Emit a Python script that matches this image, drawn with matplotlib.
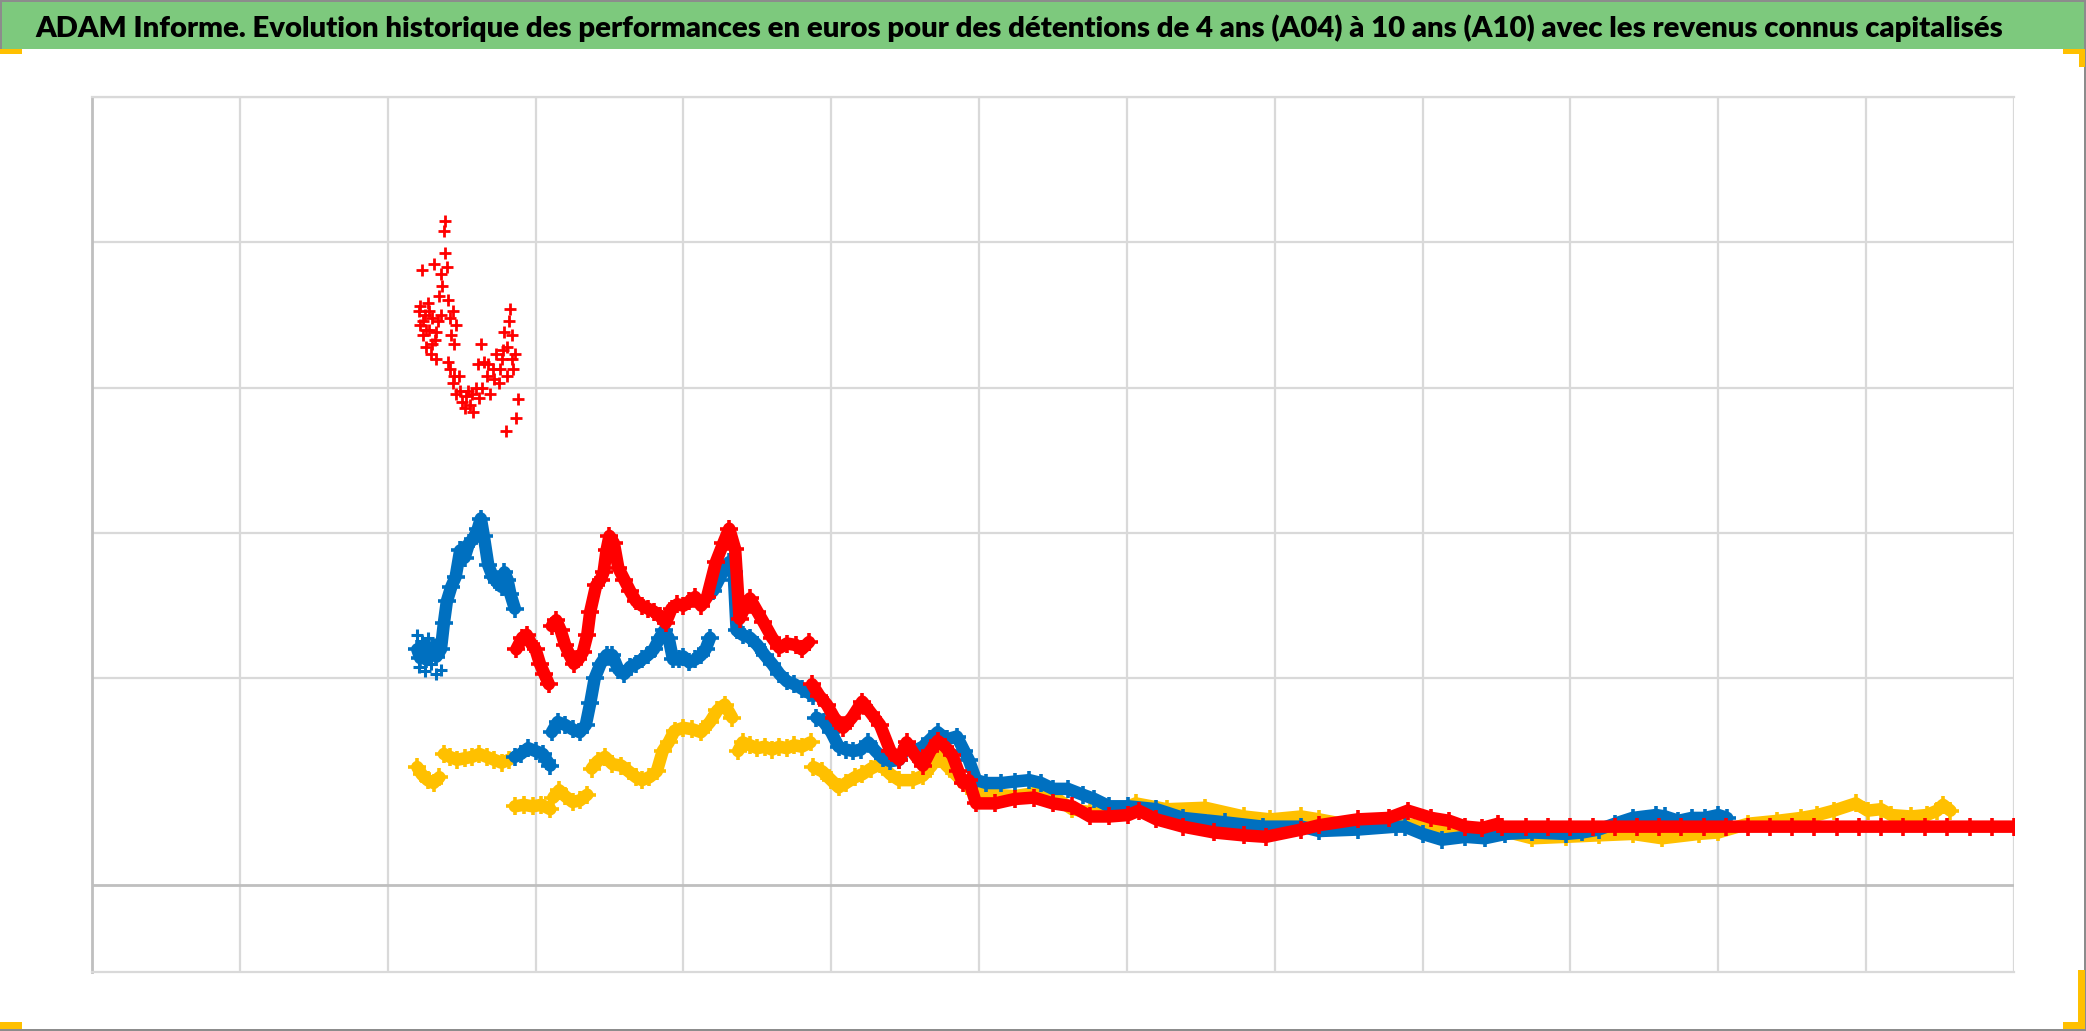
import numpy as np
import matplotlib
matplotlib.use("Agg")
import matplotlib.pyplot as plt
from matplotlib.patches import Rectangle

W, H = 2086, 1031

title = ("ADAM Informe. Evolution historique des performances en euros pour des détentions "
         "de 4 ans (A04) à 10 ans (A10) avec les revenus connus capitalisés")

# x: years from the left edge of the chart (one vertical gridline per year)
# y: performance value, horizontal axis at 0
# each series is a list of contiguous segments of (x, y) points
yellow_segments = [
    [(2.20, 0.81), (2.23, 0.76), (2.27, 0.72), (2.31, 0.70), (2.35, 0.74)],
    [(2.38, 0.90), (2.42, 0.88), (2.47, 0.86), (2.52, 0.87), (2.57, 0.88), (2.62, 0.90),
     (2.67, 0.88), (2.72, 0.86), (2.77, 0.84), (2.82, 0.86)],
    [(2.86, 0.54), (2.92, 0.55), (2.98, 0.54), (3.04, 0.55), (3.10, 0.52)],
    [(3.12, 0.60), (3.16, 0.65), (3.20, 0.61), (3.25, 0.57), (3.30, 0.58), (3.35, 0.62)],
    [(3.38, 0.80), (3.42, 0.85), (3.47, 0.88), (3.52, 0.83), (3.58, 0.82), (3.63, 0.78),
     (3.68, 0.74), (3.72, 0.72), (3.77, 0.74), (3.82, 0.78), (3.86, 0.92), (3.90, 0.98),
     (3.94, 1.06), (4.00, 1.08), (4.06, 1.07), (4.12, 1.05), (4.18, 1.12), (4.23, 1.20),
     (4.28, 1.24), (4.33, 1.15)],
    [(4.37, 0.92), (4.40, 0.98), (4.45, 0.96), (4.50, 0.94), (4.55, 0.95), (4.60, 0.93),
     (4.65, 0.95), (4.70, 0.94), (4.75, 0.96), (4.80, 0.95), (4.86, 0.98)],
    [(4.88, 0.81), (4.94, 0.78), (5.00, 0.72), (5.05, 0.67), (5.10, 0.70), (5.16, 0.74),
     (5.21, 0.76), (5.27, 0.80), (5.33, 0.83), (5.40, 0.76), (5.46, 0.72), (5.55, 0.72),
     (5.62, 0.75), (5.68, 0.82), (5.72, 0.89), (5.78, 0.82), (5.85, 0.75), (5.92, 0.68),
     (5.98, 0.63), (6.10, 0.62), (6.24, 0.61), (6.37, 0.63), (6.50, 0.61), (6.63, 0.52),
     (6.75, 0.50), (6.88, 0.49), (7.06, 0.56), (7.27, 0.52), (7.53, 0.53), (7.79, 0.47),
     (7.97, 0.45), (8.18, 0.47), (8.30, 0.45), (8.56, 0.40), (8.82, 0.43), (9.06, 0.39),
     (9.29, 0.37), (9.51, 0.38), (9.74, 0.32), (9.97, 0.33), (10.19, 0.34), (10.42, 0.35),
     (10.62, 0.32), (10.87, 0.35), (11.00, 0.36), (11.20, 0.42), (11.40, 0.44), (11.56, 0.46),
     (11.67, 0.48), (11.78, 0.51), (11.93, 0.56), (12.01, 0.51), (12.10, 0.52), (12.17, 0.48),
     (12.30, 0.47), (12.41, 0.48), (12.48, 0.51), (12.52, 0.55), (12.57, 0.51)],
]

blue_segments = [
    [(2.20, 1.62), (2.22, 1.56), (2.24, 1.64), (2.26, 1.55), (2.28, 1.58), (2.30, 1.63),
     (2.33, 1.57), (2.36, 1.62),
     (2.38, 1.80), (2.40, 1.95), (2.43, 2.05), (2.46, 2.12), (2.49, 2.30), (2.52, 2.25),
     (2.55, 2.35), (2.58, 2.38), (2.61, 2.45), (2.63, 2.52), (2.65, 2.40), (2.68, 2.20),
     (2.71, 2.12), (2.74, 2.08), (2.77, 2.05), (2.79, 2.15), (2.81, 2.10), (2.83, 2.00),
     (2.86, 1.90)],
    [(2.86, 0.88), (2.90, 0.90), (2.95, 0.94), (3.00, 0.92), (3.05, 0.90), (3.08, 0.85),
     (3.10, 0.82)],
    [(3.11, 1.05), (3.15, 1.12), (3.20, 1.10), (3.25, 1.07), (3.30, 1.05), (3.34, 1.10),
     (3.37, 1.25), (3.40, 1.42), (3.44, 1.52), (3.48, 1.58), (3.52, 1.58), (3.56, 1.48),
     (3.60, 1.45), (3.64, 1.50), (3.68, 1.52), (3.72, 1.55), (3.76, 1.58), (3.80, 1.62),
     (3.84, 1.70), (3.87, 1.75), (3.90, 1.70), (3.93, 1.55), (3.97, 1.55), (4.00, 1.57),
     (4.04, 1.53), (4.08, 1.55), (4.12, 1.58), (4.15, 1.62), (4.18, 1.70)],
    [(4.20, 2.02), (4.24, 2.10), (4.28, 2.18), (4.31, 2.22), (4.34, 2.15), (4.36, 1.75),
     (4.40, 1.72), (4.45, 1.70), (4.50, 1.65), (4.55, 1.58), (4.60, 1.52), (4.65, 1.45),
     (4.70, 1.40), (4.75, 1.38), (4.80, 1.35), (4.85, 1.32), (4.88, 1.30)],
    [(4.90, 1.15), (4.95, 1.12), (5.00, 1.05), (5.05, 0.95), (5.10, 0.93), (5.15, 0.92),
     (5.20, 0.93), (5.25, 0.98), (5.30, 0.92), (5.35, 0.87), (5.40, 0.85), (5.46, 0.86),
     (5.51, 0.95), (5.56, 0.92), (5.62, 0.95), (5.67, 1.00), (5.72, 1.05), (5.78, 1.00),
     (5.85, 1.02), (5.90, 0.92), (5.93, 0.86), (5.98, 0.72), (6.05, 0.70), (6.15, 0.70),
     (6.24, 0.71), (6.34, 0.72), (6.42, 0.70), (6.50, 0.66), (6.60, 0.66), (6.70, 0.62),
     (6.78, 0.59), (6.88, 0.54), (7.01, 0.54), (7.20, 0.52), (7.38, 0.46), (7.66, 0.43),
     (7.92, 0.40), (8.18, 0.40), (8.30, 0.37), (8.56, 0.38), (8.82, 0.40), (8.88, 0.40),
     (9.00, 0.35), (9.13, 0.31), (9.29, 0.33), (9.42, 0.32), (9.56, 0.35), (9.74, 0.36),
     (9.97, 0.35), (10.08, 0.36), (10.19, 0.38), (10.30, 0.42), (10.42, 0.46), (10.58, 0.48),
     (10.64, 0.47), (10.73, 0.44), (10.82, 0.46), (10.91, 0.46), (11.00, 0.48), (11.06, 0.46)],
]

# blue start cloud around the first segment (points only)
blue_cloud = [
    (2.20, 1.72), (2.21, 1.50), (2.23, 1.68), (2.25, 1.47), (2.27, 1.70), (2.29, 1.52),
    (2.31, 1.66), (2.33, 1.45), (2.35, 1.68), (2.36, 1.48),
]

# first, sparse and very dispersed part of the red series (plotted as points only)
red_cloud = [
    (2.21, 3.95), (2.22, 3.85), (2.23, 4.23), (2.24, 3.78), (2.25, 3.92), (2.26, 3.70),
    (2.27, 4.00), (2.28, 3.82), (2.29, 3.65), (2.30, 3.90), (2.31, 4.27), (2.32, 3.75),
    (2.33, 3.62), (2.34, 3.88), (2.35, 4.05), (2.36, 4.20), (2.37, 4.12), (2.38, 4.50),
    (2.39, 4.57), (2.39, 4.35), (2.40, 4.25), (2.41, 4.02), (2.42, 3.90), (2.43, 3.78),
    (2.44, 3.95), (2.45, 3.72), (2.46, 3.85), (2.42, 3.55), (2.44, 3.45), (2.46, 3.38),
    (2.48, 3.50), (2.50, 3.32), (2.52, 3.28), (2.54, 3.40), (2.56, 3.30), (2.58, 3.25),
    (2.60, 3.42), (2.62, 3.35), (2.61, 3.58), (2.63, 3.72), (2.65, 3.60), (2.67, 3.50),
    (2.69, 3.38), (2.71, 3.55), (2.73, 3.65), (2.75, 3.45), (2.77, 3.62), (2.79, 3.80),
    (2.80, 3.12), (2.81, 3.70), (2.82, 3.88), (2.83, 3.96), (2.84, 3.78), (2.85, 3.55),
    (2.86, 3.65), (2.87, 3.21), (2.88, 3.34), (2.22, 3.98), (2.24, 3.88), (2.26, 3.82),
    (2.28, 3.95), (2.30, 3.72), (2.33, 3.80), (2.36, 3.92), (2.41, 3.60), (2.45, 3.50),
    (2.49, 3.40), (2.53, 3.36), (2.57, 3.38), (2.64, 3.42), (2.68, 3.58), (2.72, 3.48),
    (2.76, 3.55), (2.78, 3.68), (2.84, 3.62), (2.81, 3.50),
]

red_segments = [
    [(2.87, 1.62), (2.91, 1.70), (2.94, 1.72), (2.97, 1.66), (3.00, 1.62), (3.03, 1.52),
     (3.06, 1.45), (3.09, 1.38)],
    [(3.11, 1.78), (3.14, 1.82), (3.17, 1.75), (3.20, 1.65), (3.23, 1.58), (3.26, 1.52),
     (3.29, 1.55), (3.32, 1.60), (3.35, 1.72), (3.37, 1.88), (3.41, 2.06), (3.44, 2.10),
     (3.46, 2.15), (3.48, 2.30), (3.50, 2.40), (3.53, 2.35), (3.56, 2.18), (3.60, 2.10),
     (3.64, 2.02), (3.68, 1.95), (3.72, 1.92), (3.76, 1.90), (3.80, 1.88), (3.84, 1.85),
     (3.88, 1.80), (3.92, 1.90), (3.96, 1.93), (4.00, 1.92), (4.04, 1.95), (4.08, 1.98),
     (4.12, 1.92), (4.16, 1.98), (4.22, 2.22), (4.27, 2.35), (4.31, 2.45), (4.35, 2.31),
     (4.38, 1.83), (4.42, 1.92), (4.45, 1.97), (4.50, 1.88), (4.54, 1.81), (4.60, 1.70),
     (4.65, 1.63), (4.70, 1.66), (4.76, 1.65), (4.80, 1.62), (4.85, 1.67)],
    [(4.87, 1.38), (4.92, 1.30), (4.97, 1.24), (5.02, 1.15), (5.08, 1.08), (5.14, 1.15),
     (5.21, 1.26), (5.27, 1.18), (5.33, 1.10), (5.40, 0.92), (5.46, 0.86), (5.51, 0.98),
     (5.56, 0.90), (5.62, 0.82), (5.67, 0.92), (5.72, 0.99), (5.77, 0.95), (5.82, 0.89),
     (5.86, 0.78), (5.89, 0.70), (5.93, 0.72), (5.98, 0.56), (6.11, 0.56), (6.24, 0.59),
     (6.37, 0.60), (6.50, 0.56), (6.63, 0.54), (6.75, 0.47), (6.88, 0.47), (7.01, 0.48),
     (7.08, 0.51), (7.20, 0.45), (7.38, 0.40), (7.59, 0.36), (7.79, 0.34), (7.94, 0.33),
     (8.18, 0.38), (8.30, 0.41), (8.56, 0.45), (8.77, 0.46), (8.90, 0.51), (9.06, 0.46),
     (9.18, 0.44), (9.29, 0.40), (9.40, 0.39), (9.51, 0.42)],
    [(9.54, 0.40), (9.70, 0.40), (9.85, 0.40), (10.00, 0.40), (10.15, 0.40), (10.30, 0.40),
     (10.45, 0.40), (10.60, 0.40), (10.75, 0.40), (10.90, 0.40), (11.05, 0.40), (11.20, 0.40),
     (11.35, 0.40), (11.50, 0.40), (11.65, 0.40), (11.80, 0.40), (11.95, 0.40), (12.10, 0.40),
     (12.25, 0.40), (12.40, 0.40), (12.55, 0.40), (12.70, 0.40), (12.85, 0.40), (13.00, 0.40)],
]

x_gridlines = list(range(0, 14))
y_gridlines = [1.42, 2.42, 3.42, 4.42, 5.42]

colors = {'yellow': '#FFC000', 'blue': '#0070C0', 'red': '#FF0000'}


def segments_xy(segments):
    # join segments with NaN so the line is broken between them
    xs, ys = [], []
    for seg in segments:
        for x, y in seg:
            xs.append(x)
            ys.append(y)
        xs.append(np.nan)
        ys.append(np.nan)
    return np.array(xs), np.array(ys)


fig = plt.figure(figsize=(W / 100, H / 100), dpi=100)
fig.patch.set_facecolor('white')


def px_rect(x0, y0, x1, y1, color, z=5):
    fig.add_artist(Rectangle((x0 / W, 1 - y1 / H), (x1 - x0) / W, (y1 - y0) / H,
                             transform=fig.transFigure, facecolor=color,
                             edgecolor='none', zorder=z))


# Title band
px_rect(0, 0, 2084, 49, '#7DC97D', z=1)
# frame lines
px_rect(0, 0, W, 2, '#8C8C8C')
px_rect(0, 0, 2, 49, '#8C8C8C')
px_rect(W - 2, 0, W, H, '#8C8C8C')
px_rect(0, H - 2, W, H, '#8C8C8C')
# yellow selection corners
gold = '#FFC000'
px_rect(0, 49, 22, 54, gold)
px_rect(2063, 49, 2085, 54, gold)
px_rect(2079, 49, 2085, 67, gold)
px_rect(0, 1022, 22, 1029, gold)
px_rect(2063, 1022, 2085, 1029, gold)
px_rect(2078, 970, 2085, 1029, gold)

t = fig.text(35 / W, 1 - 37 / H, title, ha='left', va='baseline', color='black',
             fontweight='heavy', family=['Lato', 'DejaVu Sans'],
             fontsize=22, zorder=6)
fig.canvas.draw()
bb = t.get_window_extent(renderer=fig.canvas.get_renderer())
t.set_fontsize(min(25, 22 * 1962 / bb.width))

# Plot area
ax = fig.add_axes([92 / W, 1 - 972 / H, (2014 - 92) / W, (972 - 97) / H])
ax.set_xlim(0, 13)
ax.set_ylim(-0.60, 5.42)
ax.set_xticks(x_gridlines)
ax.set_yticks(y_gridlines)
ax.grid(True, color='#D9D9D9', linewidth=1.6)
ax.set_axisbelow(True)
ax.tick_params(length=0, labelbottom=False, labelleft=False)
ax.spines['right'].set_visible(False)
ax.spines['top'].set_color('#D9D9D9')
ax.spines['top'].set_linewidth(1.6)
ax.spines['bottom'].set_color('#D9D9D9')
ax.spines['bottom'].set_linewidth(1.6)
ax.spines['left'].set_color('#BFBFBF')
ax.spines['left'].set_linewidth(2.0)
ax.axhline(0, color='#BFBFBF', linewidth=2.0, zorder=1)

for name, segs in [('yellow', yellow_segments), ('blue', blue_segments), ('red', red_segments)]:
    xs, ys = segments_xy(segs)
    ax.plot(xs, ys, '-', color=colors[name], linewidth=9, solid_capstyle='round',
            solid_joinstyle='round', zorder=3)
    ax.plot(xs, ys, '+', color=colors[name], markersize=13, markeredgewidth=2.6, zorder=3)
    if name == 'blue':
        bx, by = zip(*blue_cloud)
        ax.plot(bx, by, '+', color=colors['blue'], markersize=9, markeredgewidth=2.2, zorder=3)

cx, cy = zip(*red_cloud)
ax.plot(cx, cy, '+', color=colors['red'], markersize=8, markeredgewidth=2.0, zorder=4)

fig.savefig('out.png', dpi=100)
